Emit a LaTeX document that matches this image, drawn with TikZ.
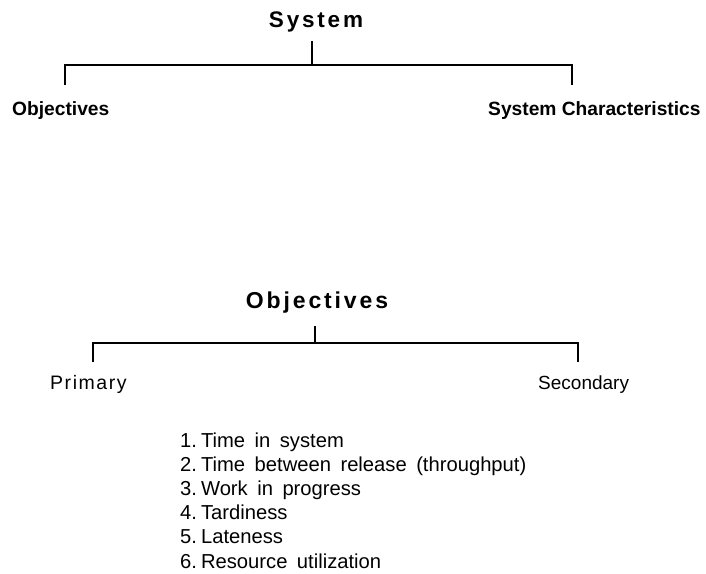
\documentclass[tikz,border=0pt]{standalone}
\usepackage{fontspec}
\setmainfont{Liberation Sans}
\newfontfamily\headfont[LetterSpace=12.5]{Liberation Sans}
\newfontfamily\primfont[LetterSpace=8]{Liberation Sans}
\newcommand{\numsep}{\hspace{4pt}}
\newcommand{\listsp}{\setlength{\spaceskip}{9.5pt}}
\tikzset{
  line/.style={line width=1.6pt},
  headtext/.style={inner sep=0pt, anchor=base, font=\headfont\bfseries\fontsize{22.5}{26}\selectfont},
  subtext/.style={inner sep=0pt, anchor=base west, font=\normalfont\bfseries\fontsize{19.2}{23}\selectfont},
  primtext/.style={inner sep=0pt, anchor=base west, font=\primfont\fontsize{19.5}{22}\selectfont},
  sectext/.style={inner sep=0pt, anchor=base west, font=\normalfont\fontsize{19}{22}\selectfont},
  listtext/.style={inner sep=0pt, anchor=base west, font={\normalfont\fontsize{20.2}{24}\selectfont\listsp}},
}
\begin{document}
\begin{tikzpicture}[x=1pt,y=-1pt]
\useasboundingbox (0,0) rectangle (706,573);
% top tree
\node[headtext] (sys) at (316,27) {System};
\node[subtext] (obj) at (12,115) {Objectives};
\node[subtext] (char) at (488,115) {System Characteristics};
\coordinate (s1) at (312,41);
\coordinate (s2) at (312,65);
\coordinate (l1) at (65,85);
\coordinate (r1) at (572,85);
\draw[line] (s1) -- (s2);
\draw[line] (l1) |- (s2) -| (r1);
% objectives tree
\node[headtext,font=\headfont\bfseries\fontsize{23}{27}\selectfont] (obj2) at (317,308) {Objectives};
\node[primtext] (prim) at (50,389) {Primary};
\node[sectext] (sec) at (538,389) {Secondary};
\coordinate (t1) at (315,326);
\coordinate (t2) at (315,343);
\coordinate (l2) at (93,362);
\coordinate (r2) at (578,362);
\draw[line] (t1) -- (t2);
\draw[line] (l2) |- (t2) -| (r2);
% list
\node[listtext] (i1) at (180,447) {1.\numsep Time in system};
\node[listtext] (i2) at (180,471.2) {2.\numsep Time between release (throughput)};
\node[listtext] (i3) at (180,495.4) {3.\numsep Work in progress};
\node[listtext] (i4) at (180,519.6) {4.\numsep Tardiness};
\node[listtext] (i5) at (180,543.8) {5.\numsep Lateness};
\node[listtext] (i6) at (180,568) {6.\numsep Resource utilization};
\end{tikzpicture}
\end{document}
